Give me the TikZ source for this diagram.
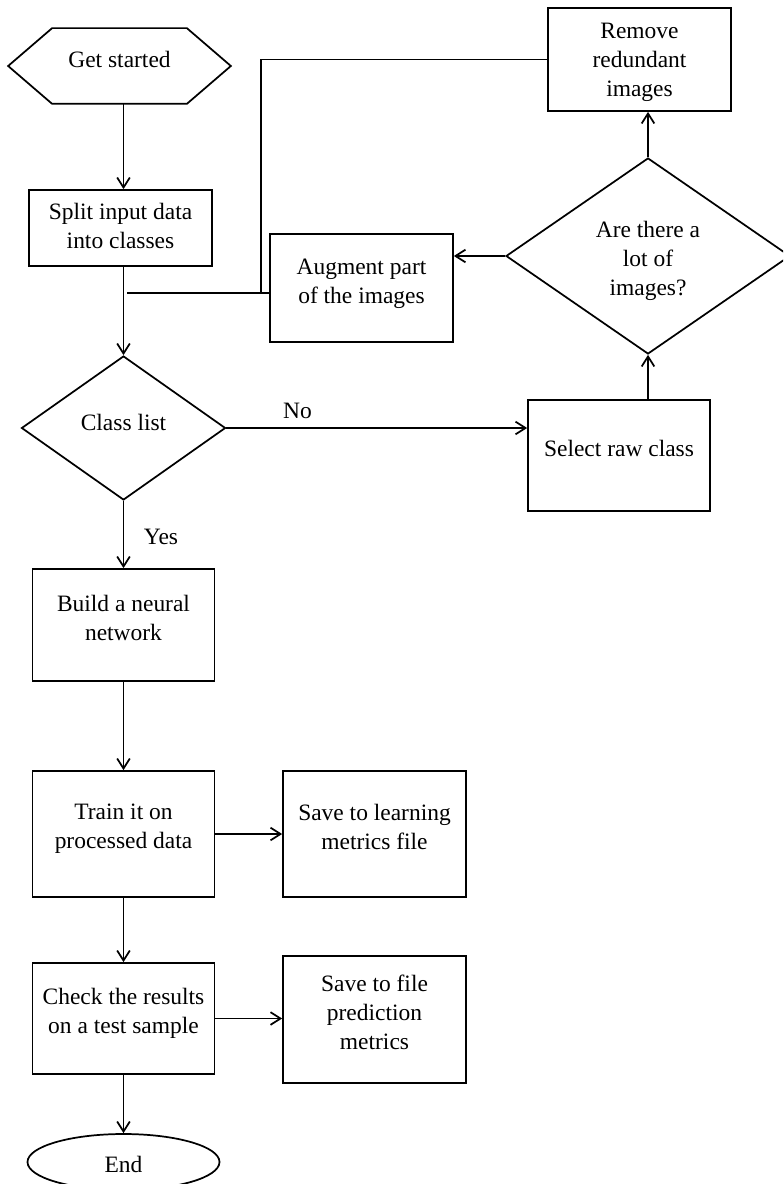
\documentclass[tikz,border=0pt]{standalone}
\usepackage{fontspec}
\setmainfont{Liberation Serif}
\usetikzlibrary{shapes.geometric,arrows.meta,calc}
\def\PX{0.75pt}
\begin{document}
\begin{tikzpicture}[x=0.75pt,y=-0.75pt,line width=1.3pt,
  every node/.style={font=\fontsize{17.6}{21.75}\selectfont},
  box/.style 2 args={draw,rectangle,inner sep=0pt,minimum width=#1*\PX,minimum height=#2*\PX},
  dia/.style 2 args={draw,diamond,inner sep=0pt,minimum width=#1*\PX,minimum height=#2*\PX},
  txt/.style={align=center,inner sep=0pt},
  lab/.style 2 args={label={[txt,yshift=#1*\PX]center:{#2}}},
  arr/.style={-{Straight Barb[length=7.5pt,width=9.5pt]}}]
\useasboundingbox (0,0) rectangle (783,1184);
\clip (0,0) rectangle (783,1184);

% nodes
\node[inner sep=0pt,minimum width=221*\PX,minimum height=74*\PX,lab={6.5}{Get started}] (start) at (119.5,66) {};
\draw (start.west) -- ($(start.north west)+(44,0)$) -- ($(start.north east)+(-44,0)$) -- (start.east)
      -- ($(start.south east)+(-44,0)$) -- ($(start.south west)+(44,0)$) -- cycle;
\node[box={183}{76},lab={2}{Split input data\\into classes}] (split) at (120.5,228) {};
\node[box={183}{108},lab={4}{Augment part\\of the images}] (aug) at (361.5,288) {};
\node[box={183}{103},lab={-3}{Remove\\redundant\\images}] (rem) at (639.5,59.5) {};
\node[dia={284}{196},lab={-5}{Are there a\\lot of\\images?}] (d2) at (648,256) {};
\node[dia={204}{144},lab={6}{Class list}] (cl) at (123.5,428) {};
\node[box={182}{111},lab={7.5}{Select raw class}] (sel) at (619,455.5) {};
\node[box={182}{112},lab={7}{Build a neural\\network}] (build) at (123.5,625) {};
\node[box={182}{126},lab={5}{Train it on\\processed data}] (train) at (123.5,834) {};
\node[box={183}{126},lab={7.5}{Save to learning\\metrics file}] (save1) at (374.5,834) {};
\node[box={182}{111},lab={5.5}{Check the results\\on a test sample}] (check) at (123.5,1018.5) {};
\node[box={183}{127},lab={7}{Save to file\\prediction\\metrics}] (save2) at (374.5,1019.5) {};
\node[draw,ellipse,inner sep=0pt,minimum width=192*\PX,minimum height=56*\PX,lab={-2.5}{End}] (end) at (123.5,1162) {};
\node (no) at (297.5,411) {No};
\node (yes) at (161,537) {Yes};

% connectors
\coordinate (col) at (123.5,0);
\coordinate (j0) at (126.5,293);
\coordinate (j1) at (261,293);
\draw[arr] (start.south -| col) -- (split.north -| col);
\draw[arr] (split.south -| col) -- (cl.north);
\draw (rem.west) -| (j1) -- (j0);
\draw (aug.west |- j1) -- (j1);
\draw[arr] (cl.east) -- (cl.east -| sel.west);
\draw[arr] (d2.south |- sel.north) -- (d2.south);
\draw[arr] (d2.north) -- (d2.north |- rem.south);
\draw[arr] (d2.west) -- (d2.west -| aug.east);
\draw[arr] (cl.south) -- (build.north);
\draw[arr] (build.south) -- (train.north);
\draw[arr] (train.east) -- (train.east -| save1.west);
\draw[arr] (train.south) -- (check.north);
\draw[arr] (check.east) -- (check.east -| save2.west);
\draw[arr] (check.south) -- (end.north);
\end{tikzpicture}
\end{document}
